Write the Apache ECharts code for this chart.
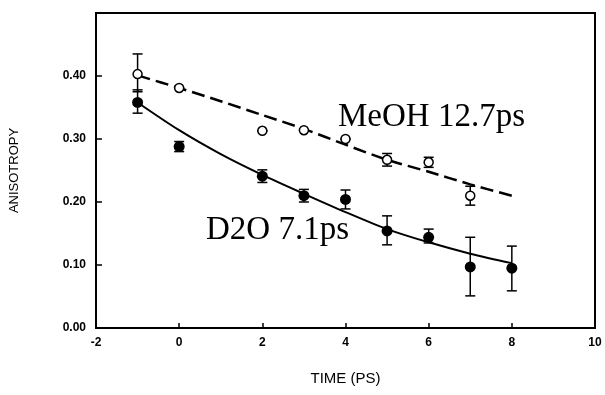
<!DOCTYPE html>
<html>
<head>
<meta charset="utf-8">
<script src="https://cdn.jsdelivr.net/npm/echarts@6/dist/echarts.min.js"></script>
<style>
  html, body { margin: 0; padding: 0; background: #fff; }
  #chart { width: 605px; height: 395px; }
</style>
</head>
<body>
<div id="chart"></div>
<script>
// measured points, time in ps
const meohTime = [-1, 0, 2, 3, 4, 5, 6, 7];
const meohValue = [0.403, 0.381, 0.313, 0.314, 0.300, 0.267, 0.263, 0.210];
const meohErrLow = [0.375, 0.381, 0.313, 0.314, 0.300, 0.257, 0.255, 0.195];
const meohErrHigh = [0.435, 0.381, 0.313, 0.314, 0.300, 0.277, 0.271, 0.225];

const d2oTime = [-1, 0, 2, 3, 4, 5, 6, 7, 8];
const d2oValue = [0.358, 0.288, 0.241, 0.210, 0.204, 0.154, 0.144, 0.097, 0.095];
const d2oErrLow = [0.341, 0.280, 0.231, 0.200, 0.189, 0.132, 0.135, 0.051, 0.059];
const d2oErrHigh = [0.378, 0.296, 0.251, 0.220, 0.219, 0.178, 0.157, 0.144, 0.130];

// fitted decays
const fitTime = [-1, 0, 1, 2, 3, 4, 5, 6, 7, 8];
const meohFit = [0.401, 0.381, 0.360, 0.338, 0.316, 0.291, 0.267, 0.248, 0.228, 0.210];
const d2oFit = [0.358, 0.314, 0.276, 0.243, 0.213, 0.184, 0.157, 0.136, 0.118, 0.103];

const meohLabel = 'MeOH 12.7ps';
const d2oLabel = 'D2O 7.1ps';

const zip = (xs, ...cols) => xs.map((x, i) => [x, ...cols.map(c => c[i])]);

function errorBar(params, api) {
  const x = api.value(0);
  const lo = api.coord([x, api.value(1)]);
  const hi = api.coord([x, api.value(2)]);
  const half = 5;
  const style = { stroke: '#000', lineWidth: 1.5 };
  return {
    type: 'group',
    children: [
      { type: 'line', shape: { x1: lo[0], y1: lo[1], x2: hi[0], y2: hi[1] }, style },
      { type: 'line', shape: { x1: lo[0] - half, y1: lo[1], x2: lo[0] + half, y2: lo[1] }, style },
      { type: 'line', shape: { x1: hi[0] - half, y1: hi[1], x2: hi[0] + half, y2: hi[1] }, style },
    ],
  };
}

const chart = echarts.init(document.getElementById('chart'));
const tickFont = { color: '#000', fontFamily: 'Liberation Sans', fontWeight: 'bold', fontSize: 12 };

chart.setOption({
  animation: false,
  grid: {
    left: 95, right: 10, top: 13, bottom: 67,
    show: true, borderColor: '#000', borderWidth: 2, backgroundColor: 'transparent',
  },
  xAxis: {
    type: 'value', min: -2, max: 10, interval: 2,
    name: 'TIME (PS)', nameLocation: 'middle', nameGap: 43,
    nameTextStyle: { color: '#000', fontFamily: 'Liberation Sans', fontSize: 15 },
    axisLine: { show: true, onZero: false, lineStyle: { color: '#000', width: 2 } },
    axisTick: { show: true, inside: true, length: 5, lineStyle: { color: '#000', width: 1.5 } },
    axisLabel: { ...tickFont, margin: 9 },
    splitLine: { show: false },
  },
  yAxis: {
    type: 'value', min: 0, max: 0.5, interval: 0.1,
    name: 'ANISOTROPY', nameLocation: 'middle', nameGap: 75,
    nameTextStyle: { color: '#000', fontFamily: 'Liberation Sans', fontSize: 13 },
    axisLine: { show: true, onZero: false, lineStyle: { color: '#000', width: 2 } },
    axisTick: { show: true, inside: true, length: 6, lineStyle: { color: '#000', width: 1.5 } },
    axisLabel: {
      ...tickFont, margin: 10,
      formatter: (v) => (v > 0.45 ? '' : v.toFixed(2)),
    },
    splitLine: { show: false },
  },
  graphic: [
    { type: 'text', x: 338, y: 117, style: { text: meohLabel, fill: '#000', font: '33px "Liberation Serif"', verticalAlign: 'middle' } },
    { type: 'text', x: 206, y: 230, style: { text: d2oLabel, fill: '#000', font: '33px "Liberation Serif"', verticalAlign: 'middle' } },
  ],
  series: [
    {
      name: 'MeOH fit', type: 'line', data: zip(fitTime, meohFit), smooth: 0.3,
      symbol: 'none', lineStyle: { color: '#000', width: 2.5, type: [13, 6] }, z: 2,
    },
    {
      name: 'D2O fit', type: 'line', data: zip(fitTime, d2oFit), smooth: 0.3,
      symbol: 'none', lineStyle: { color: '#000', width: 2 }, z: 2,
    },
    { name: 'MeOH err', type: 'custom', renderItem: errorBar, data: zip(meohTime, meohErrLow, meohErrHigh), z: 3 },
    { name: 'D2O err', type: 'custom', renderItem: errorBar, data: zip(d2oTime, d2oErrLow, d2oErrHigh), z: 3 },
    {
      name: 'MeOH', type: 'scatter', data: zip(meohTime, meohValue), symbol: 'circle', symbolSize: 9,
      itemStyle: { color: '#fff', borderColor: '#000', borderWidth: 1.5, opacity: 1 }, z: 4,
    },
    {
      name: 'D2O', type: 'scatter', data: zip(d2oTime, d2oValue), symbol: 'circle', symbolSize: 11,
      itemStyle: { color: '#000', opacity: 1 }, z: 4,
    },
  ],
});
</script>
</body>
</html>
